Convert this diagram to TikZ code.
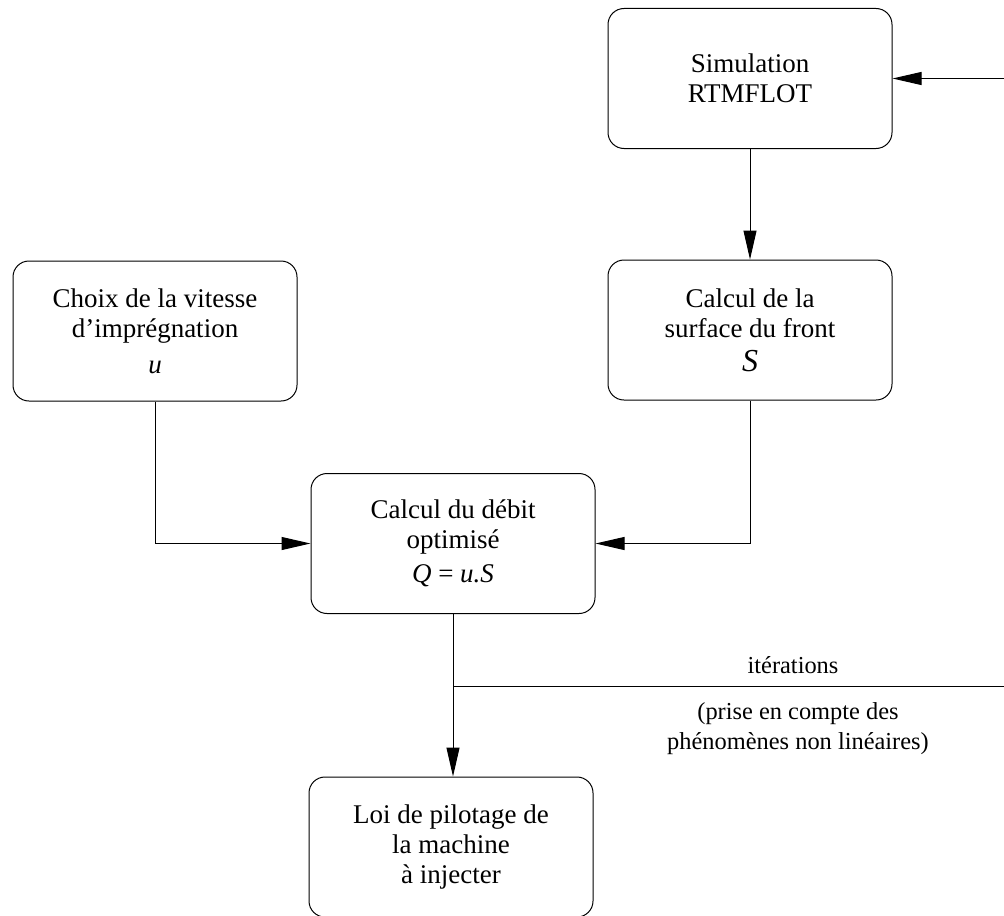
\documentclass[tikz,border=0pt]{standalone}
\usepackage{fontspec}
\setmainfont{Liberation Serif}
\usepackage{tikz}
\usetikzlibrary{arrows.meta,calc,positioning}

\begin{document}
\begin{tikzpicture}[x=0.5pt,y=-0.5pt,
    stepbox/.style={draw,line width=0.5pt,rounded corners=8pt,align=center,
      minimum width=142pt,minimum height=70pt,inner sep=0pt,
      font=\fontsize{13.5pt}{15pt}\selectfont},
    flow/.style={line width=0.5pt,-{Triangle[length=14.5pt,width=6.5pt]}},
    lbl/.style={align=center,inner sep=0pt,font=\fontsize{12.2pt}{15pt}\selectfont}]
  \useasboundingbox (0,0) rectangle (1004,915);
  \clip (0,0) rectangle (1004,915);
  % boxes
  \node[stepbox] (sim)   at (750,78.5) {Simulation\\RTMFLOT};
  \node[stepbox] (surf)  at (750,330)  {Calcul de la\\surface du front\\[2pt]{\fontsize{16pt}{18pt}\selectfont\textit{S}}};
  \node[stepbox] (choix) at (155,331)  {Choix de la vitesse\\d'imprégnation\\[3pt]\textit{u}};
  \node[stepbox] (debit) at (453,543.5) {Calcul du débit\\optimisé\\[2pt]\textit{Q} = \textit{u.S}};
  \node[stepbox] (loi)   at (451,847)  {Loi de pilotage de\\la machine\\à injecter};
  % connectors
  \draw[flow] (sim.south) -- (surf.north);
  \draw[flow] (choix.south) |- (debit.west);
  \draw[flow] (surf.south) |- (debit.east);
  \draw[flow] (debit.south) -- (debit.south |- loi.north);
  % feedback loop (leaves the frame on the right)
  \coordinate (turnA) at (1015,686);
  \coordinate (turnB) at (1015,78.5);
  \coordinate (split) at (debit.south |- turnA);
  \draw[flow] (split) -- (turnA) -- (turnB) -- (sim.east);
  \node[lbl,anchor=base] (iter) at (793,673) {itérations};
  \node[lbl,anchor=north] (nonlin) at (798,702) {(prise en compte des\\phénomènes non linéaires)};
\end{tikzpicture}
\end{document}
